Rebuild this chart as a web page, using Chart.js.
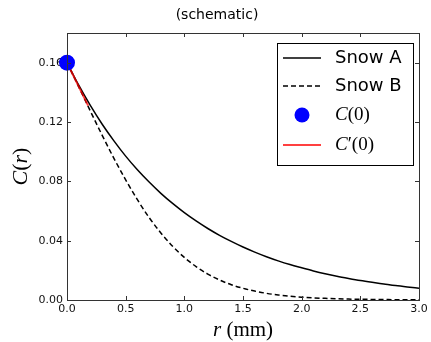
<!DOCTYPE html>
<html><head><meta charset="utf-8">
<script src="https://cdn.jsdelivr.net/npm/chart.js@4"></script>
<style>html,body{margin:0;padding:0;background:#fff;}canvas{display:block;}</style>
</head><body>
<canvas id="c" width="431" height="342"></canvas>
<script>
// ---- data ----
const rValues = [0.0,0.1,0.2,0.3,0.4,0.5,0.6,0.7,0.8,0.9,1.0,1.1,1.2,1.3,1.4,1.5,1.6,1.7,1.8,1.9,2.0,2.1,2.2,2.3,2.4,2.5,2.6,2.7,2.8,2.9,3.0];
const snowA = [0.1600,0.1448,0.1310,0.1185,0.1073,0.0970,0.0878,0.0795,0.0719,0.0651,0.0589,0.0533,0.0482,0.0436,0.0395,0.0357,0.0323,0.0292,0.0264,0.0239,0.0217,0.0196,0.0177,0.0160,0.0145,0.0131,0.0119,0.0108,0.0097,0.0088,0.0080];
const snowB = [0.1600,0.1437,0.1272,0.1110,0.0955,0.0810,0.0676,0.0556,0.0452,0.0362,0.0287,0.0225,0.0175,0.0135,0.0103,0.0079,0.0060,0.0045,0.0034,0.0026,0.0019,0.0014,0.0011,0.0008,0.0006,0.0005,0.0004,0.0003,0.0002,0.0002,0.0001];
const c0Point = {x: 0.0, y: 0.160};
const tangentR = [0.0, 0.18];
const tangentC = [0.160, 0.131];
const xTicks = [0.0,0.5,1.0,1.5,2.0,2.5,3.0];
const yTicks = [0.00,0.04,0.08,0.12,0.16];
const legendLabels = ['Snow A','Snow B','C(0)','C\u2032(0)'];

const pts = (xs, ys) => xs.map((x,i)=>({x:x, y:ys[i]}));

const SANS = '"DejaVu Sans", sans-serif';
const SERIF = '"Liberation Serif", "DejaVu Serif", serif';

const decor = {
  id: 'decor',
  afterDraw(chart) {
    const ctx = chart.ctx, a = chart.chartArea;
    const xs = chart.scales.x, ys = chart.scales.y;
    ctx.save();
    // frame
    ctx.strokeStyle = '#333'; ctx.lineWidth = 1;
    ctx.strokeRect(Math.round(a.left)+0.5, Math.round(a.top)+0.5, Math.round(a.right-a.left), Math.round(a.bottom-a.top));
    // inside ticks
    ctx.beginPath();
    xTicks.forEach(v => {
      const px = Math.round(xs.getPixelForValue(v))+0.5;
      ctx.moveTo(px, a.bottom); ctx.lineTo(px, a.bottom-4);
      ctx.moveTo(px, a.top); ctx.lineTo(px, a.top+4);
    });
    yTicks.forEach(v => {
      const py = Math.round(ys.getPixelForValue(v))+0.5;
      ctx.moveTo(a.left, py); ctx.lineTo(a.left+4, py);
      ctx.moveTo(a.right, py); ctx.lineTo(a.right-4, py);
    });
    ctx.stroke();
    // title
    ctx.fillStyle = '#000';
    ctx.font = '14px ' + SANS; ctx.textAlign = 'center'; ctx.textBaseline = 'middle';
    ctx.fillText('(schematic)', 217, 15);
    // x title: r (mm)
    ctx.textBaseline = 'alphabetic'; ctx.textAlign = 'left';
    ctx.font = 'italic 21px ' + SERIF;
    const wr = ctx.measureText('r').width;
    ctx.font = '21px ' + SERIF;
    const wm = ctx.measureText(' (mm)').width;
    let x0 = (a.left + a.right)/2 - (wr+wm)/2;
    ctx.font = 'italic 21px ' + SERIF; ctx.fillText('r', x0, 336);
    ctx.font = '21px ' + SERIF; ctx.fillText(' (mm)', x0+wr, 336);
    // y title: C(r)
    ctx.save();
    ctx.translate(27, (a.top+a.bottom)/2);
    ctx.rotate(-Math.PI/2);
    const parts = [['C','italic '],['(',''],['r','italic '],[')','']];
    let tw = 0; parts.forEach(p=>{ctx.font=p[1]+'22px '+SERIF; tw+=ctx.measureText(p[0]).width;});
    let cx = -tw/2;
    parts.forEach(p=>{ctx.font=p[1]+'22px '+SERIF; ctx.fillText(p[0], cx, 0); cx+=ctx.measureText(p[0]).width;});
    ctx.restore();
    // legend
    const L = 277, T = 43, R = 413, B = 165;
    ctx.fillStyle = '#fff'; ctx.fillRect(L, T, R-L, B-T);
    ctx.strokeStyle = '#000'; ctx.lineWidth = 1;
    ctx.strokeRect(L+0.5, T+0.5, R-L, B-T);
    const rows = [58, 86, 115, 145];
    const sx0 = 283, sx1 = 321, tx = 335;
    ctx.strokeStyle = '#000'; ctx.lineWidth = 1.5; ctx.setLineDash([]);
    ctx.beginPath(); ctx.moveTo(sx0, rows[0]); ctx.lineTo(sx1, rows[0]); ctx.stroke();
    ctx.setLineDash([5,3]);
    ctx.beginPath(); ctx.moveTo(sx0, rows[1]); ctx.lineTo(sx1, rows[1]); ctx.stroke();
    ctx.setLineDash([]);
    ctx.fillStyle = '#0000ff';
    ctx.beginPath(); ctx.arc((sx0+sx1)/2, rows[2], 7.5, 0, Math.PI*2); ctx.fill();
    ctx.strokeStyle = 'rgba(255,0,0,0.75)'; ctx.lineWidth = 2;
    ctx.beginPath(); ctx.moveTo(sx0, rows[3]); ctx.lineTo(sx1, rows[3]); ctx.stroke();
    ctx.fillStyle = '#000'; ctx.textBaseline = 'middle';
    ctx.font = '18px ' + SANS;
    ctx.fillText(legendLabels[0], tx, rows[0]);
    ctx.fillText(legendLabels[1], tx, rows[1]);
    const mathRow = (txt, y) => {
      let x = tx;
      for (const ch of txt) {
        ctx.font = (ch==='C' ? 'italic ' : '') + '19px ' + SERIF;
        ctx.fillText(ch, x, y); x += ctx.measureText(ch).width;
      }
    };
    mathRow(legendLabels[2], rows[2]);
    mathRow(legendLabels[3], rows[3]);
    ctx.restore();
  }
};

new Chart(document.getElementById('c'), {
  type: 'scatter',
  data: {
    datasets: [
      { label: legendLabels[2], data: [c0Point], showLine: false, pointRadius: 8, pointHoverRadius: 8,
        backgroundColor: '#0000ff', borderColor: '#0000ff', borderWidth: 0, clip: false },
      { label: legendLabels[3], data: pts(tangentR, tangentC), showLine: true, pointRadius: 0,
        borderColor: 'rgba(255,0,0,0.75)', borderWidth: 2 },
      { label: legendLabels[0], data: pts(rValues, snowA), showLine: true, pointRadius: 0,
        borderColor: '#000', borderWidth: 1.5, cubicInterpolationMode: 'monotone' },
      { label: legendLabels[1], data: pts(rValues, snowB), showLine: true, pointRadius: 0,
        borderColor: '#000', borderWidth: 1.5, borderDash: [5,3], cubicInterpolationMode: 'monotone' }
    ]
  },
  options: {
    responsive: false, animation: false, devicePixelRatio: 1,
    layout: { padding: { left: 0, top: 33, right: 12, bottom: 0 } },
    plugins: { legend: { display: false }, title: { display: false }, tooltip: { enabled: false } },
    scales: {
      x: {
        type: 'linear', min: 0, max: 3,
        afterFit: s => { s.height = 42; },
        afterBuildTicks: s => { s.ticks = xTicks.map(v => ({value: v})); },
        grid: { display: false, drawTicks: false }, border: { display: false },
        ticks: { padding: 3, color: '#111', font: { family: SANS, size: 11 }, maxRotation: 0,
                 callback: v => Number(v).toFixed(1) }
      },
      y: {
        type: 'linear', min: 0, max: 0.18,
        afterFit: s => { s.width = 67; },
        afterBuildTicks: s => { s.ticks = yTicks.map(v => ({value: v})); },
        grid: { display: false, drawTicks: false }, border: { display: false },
        ticks: { padding: 4, color: '#111', font: { family: SANS, size: 11 },
                 callback: v => Number(v).toFixed(2) }
      }
    }
  },
  plugins: [decor]
});
</script>
</body></html>
